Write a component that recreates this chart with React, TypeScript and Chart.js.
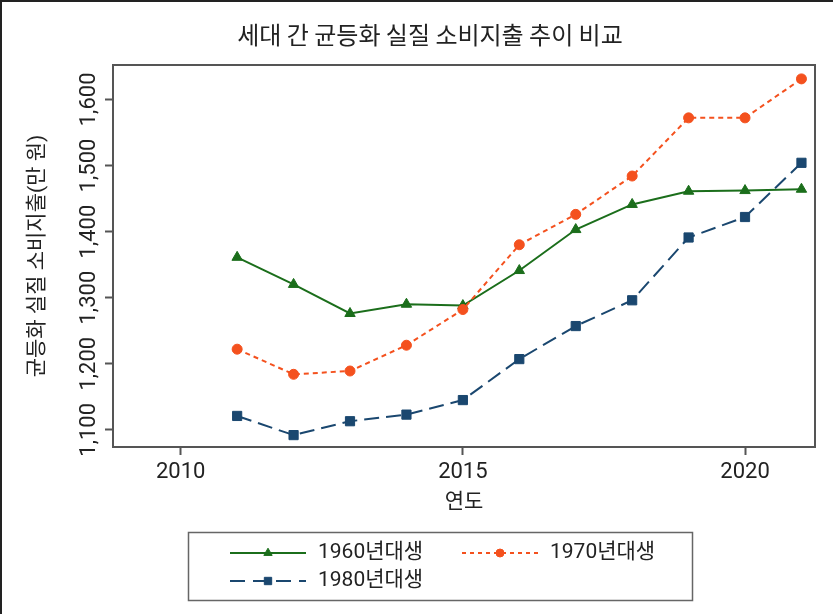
import React, { useEffect, useRef } from "react";
import { Chart, registerables } from "chart.js";
import { drawPoint } from "chart.js/helpers";

Chart.register(...registerables);

// ---- data ----
const years = [2011, 2012, 2013, 2014, 2015, 2016, 2017, 2018, 2019, 2020, 2021];
const gen1960 = [1361, 1320, 1276, 1290, 1288, 1341, 1403, 1441, 1461, 1462, 1464];
const gen1970 = [1222, 1184, 1189, 1228, 1282, 1380, 1426, 1484, 1572, 1572, 1631];
const gen1980 = [1121, 1092, 1113, 1123, 1145, 1207, 1257, 1296, 1391, 1422, 1504];
const seriesLabels = ["1960년대생", "1970년대생", "1980년대생"];
const xTicks = [2010, 2015, 2020];
const yTicks = [1100, 1200, 1300, 1400, 1500, 1600];
const chartTitle = "세대 간 균등화 실질 소비지출 추이 비교";
const xTitle = "연도";
const yTitle = "균등화 실질 소비지출(만 원)";

const GREEN = "#1b6e1b";
const ORANGE = "#f4511e";
const NAVY = "#1a476f";
const AXIS = "#555555";
const TEXT = "#222222";
const FONT = 'Roboto, "Noto Sans CJK KR", sans-serif';

const fmt = (v: number) => v.toLocaleString("en-US");

const decorPlugin = {
  id: "decor",
  afterDraw(chart: any) {
    const ctx = chart.ctx as CanvasRenderingContext2D;
    const a = chart.chartArea;
    ctx.save();
    // outer frame (top / left)
    ctx.fillStyle = "#222";
    ctx.fillRect(0, 0, chart.width, 2);
    ctx.fillRect(0, 0, 2, chart.height);
    // plot region border
    ctx.strokeStyle = AXIS;
    ctx.lineWidth = 2;
    ctx.strokeRect(a.left, a.top, a.right - a.left, a.bottom - a.top);
    // title
    ctx.fillStyle = TEXT;
    ctx.font = '24px "Noto Sans CJK KR", sans-serif';
    ctx.textAlign = "center";
    ctx.textBaseline = "middle";
    ctx.fillText(chartTitle, 430, 35);
    // legend
    ctx.strokeStyle = "#666";
    ctx.lineWidth = 1.5;
    ctx.strokeRect(188.5, 532.5, 504, 68);
    const slots = [
      { ds: 0, x: 230, y: 553 },
      { ds: 1, x: 462, y: 553 },
      { ds: 2, x: 230, y: 581 },
    ];
    const legendDash: number[][] = [[], [4, 4], [15, 8]];
    slots.forEach(({ ds, x, y }) => {
      const d = chart.data.datasets[ds];
      ctx.strokeStyle = d.borderColor;
      ctx.lineWidth = 2;
      ctx.setLineDash(legendDash[ds]);
      ctx.beginPath();
      ctx.moveTo(x, y);
      ctx.lineTo(x + 76, y);
      ctx.stroke();
      ctx.setLineDash([]);
      ctx.fillStyle = d.borderColor;
      ctx.strokeStyle = d.borderColor;
      ctx.lineWidth = 1;
      drawPoint(ctx, { pointStyle: d.pointStyle, radius: d.pointRadius * 0.8, rotation: 0, borderWidth: 1 } as any, x + 38, y);
      ctx.fillStyle = TEXT;
      ctx.font = `21px ${FONT}`;
      ctx.textAlign = "left";
      ctx.textBaseline = "middle";
      ctx.fillText(d.label, x + 88, y);
    });
    ctx.restore();
  },
};

export default function App() {
  const ref = useRef<HTMLCanvasElement>(null);
  useEffect(() => {
    if (!ref.current) return;
    const mk = (vals: number[]) => years.map((x, i) => ({ x, y: vals[i] }));
    const chart = new Chart(ref.current, {
      type: "line",
      data: {
        datasets: [
          {
            label: seriesLabels[0],
            data: mk(gen1960),
            borderColor: GREEN,
            backgroundColor: GREEN,
            borderWidth: 2,
            pointStyle: "triangle",
            pointRadius: 6,
            pointBorderWidth: 1,
            pointBackgroundColor: GREEN,
            order: 3,
          },
          {
            label: seriesLabels[1],
            data: mk(gen1970),
            borderColor: ORANGE,
            backgroundColor: ORANGE,
            borderWidth: 2,
            borderDash: [5, 4],
            pointStyle: "circle",
            pointRadius: 5,
            pointBorderWidth: 1,
            pointBackgroundColor: ORANGE,
            order: 1,
          },
          {
            label: seriesLabels[2],
            data: mk(gen1980),
            borderColor: NAVY,
            backgroundColor: NAVY,
            borderWidth: 2,
            borderDash: [15, 7],
            pointStyle: "rect",
            pointRadius: 6.5,
            pointBorderWidth: 1,
            pointBackgroundColor: NAVY,
            order: 2,
          },
        ] as any,
      },
      options: {
        animation: false,
        responsive: false,
        layout: { padding: { top: 65, right: 18, bottom: 0, left: 0 } },
        plugins: {
          legend: { display: false },
          title: { display: false },
          tooltip: { enabled: false },
        },
        scales: {
          x: {
            type: "linear",
            min: 2008.8,
            max: 2021.24,
            afterBuildTicks: (s: any) => {
              s.ticks = xTicks.map((v) => ({ value: v }));
            },
            afterFit: (s: any) => {
              s.height = 167;
            },
            grid: { drawOnChartArea: false, drawTicks: true, tickLength: 8, tickColor: AXIS, tickWidth: 2 },
            border: { display: false },
            ticks: {
              padding: 4,
              color: TEXT,
              font: { family: FONT, size: 22 },
              maxRotation: 0,
              minRotation: 0,
              autoSkip: false,
              callback: (v: any) => String(v),
            },
            title: {
              display: true,
              text: xTitle,
              color: TEXT,
              font: { family: FONT, size: 21 },
              padding: { top: 0, bottom: 99 },
            },
          },
          y: {
            type: "linear",
            min: 1074,
            max: 1652,
            afterBuildTicks: (s: any) => {
              s.ticks = yTicks.map((v) => ({ value: v }));
            },
            afterFit: (s: any) => {
              s.width = 113;
            },
            grid: { drawOnChartArea: false, drawTicks: true, tickLength: 8, tickColor: AXIS, tickWidth: 2 },
            border: { display: false },
            ticks: {
              minRotation: 90,
              maxRotation: 90,
              crossAlign: "center",
              padding: -11,
              color: TEXT,
              font: { family: FONT, size: 22 },
              autoSkip: false,
              callback: (v: any) => fmt(Number(v)),
            },
            title: {
              display: true,
              text: yTitle,
              color: TEXT,
              font: { family: FONT, size: 21 },
              padding: { top: 25, bottom: 0 },
            },
          },
        },
      } as any,
      plugins: [decorPlugin],
    });
    return () => chart.destroy();
  }, []);
  return (
    <canvas
      ref={ref}
      width={833}
      height={614}
      style={{ position: "absolute", left: 0, top: 0, width: 833, height: 614, background: "#fff" }}
    />
  );
}
